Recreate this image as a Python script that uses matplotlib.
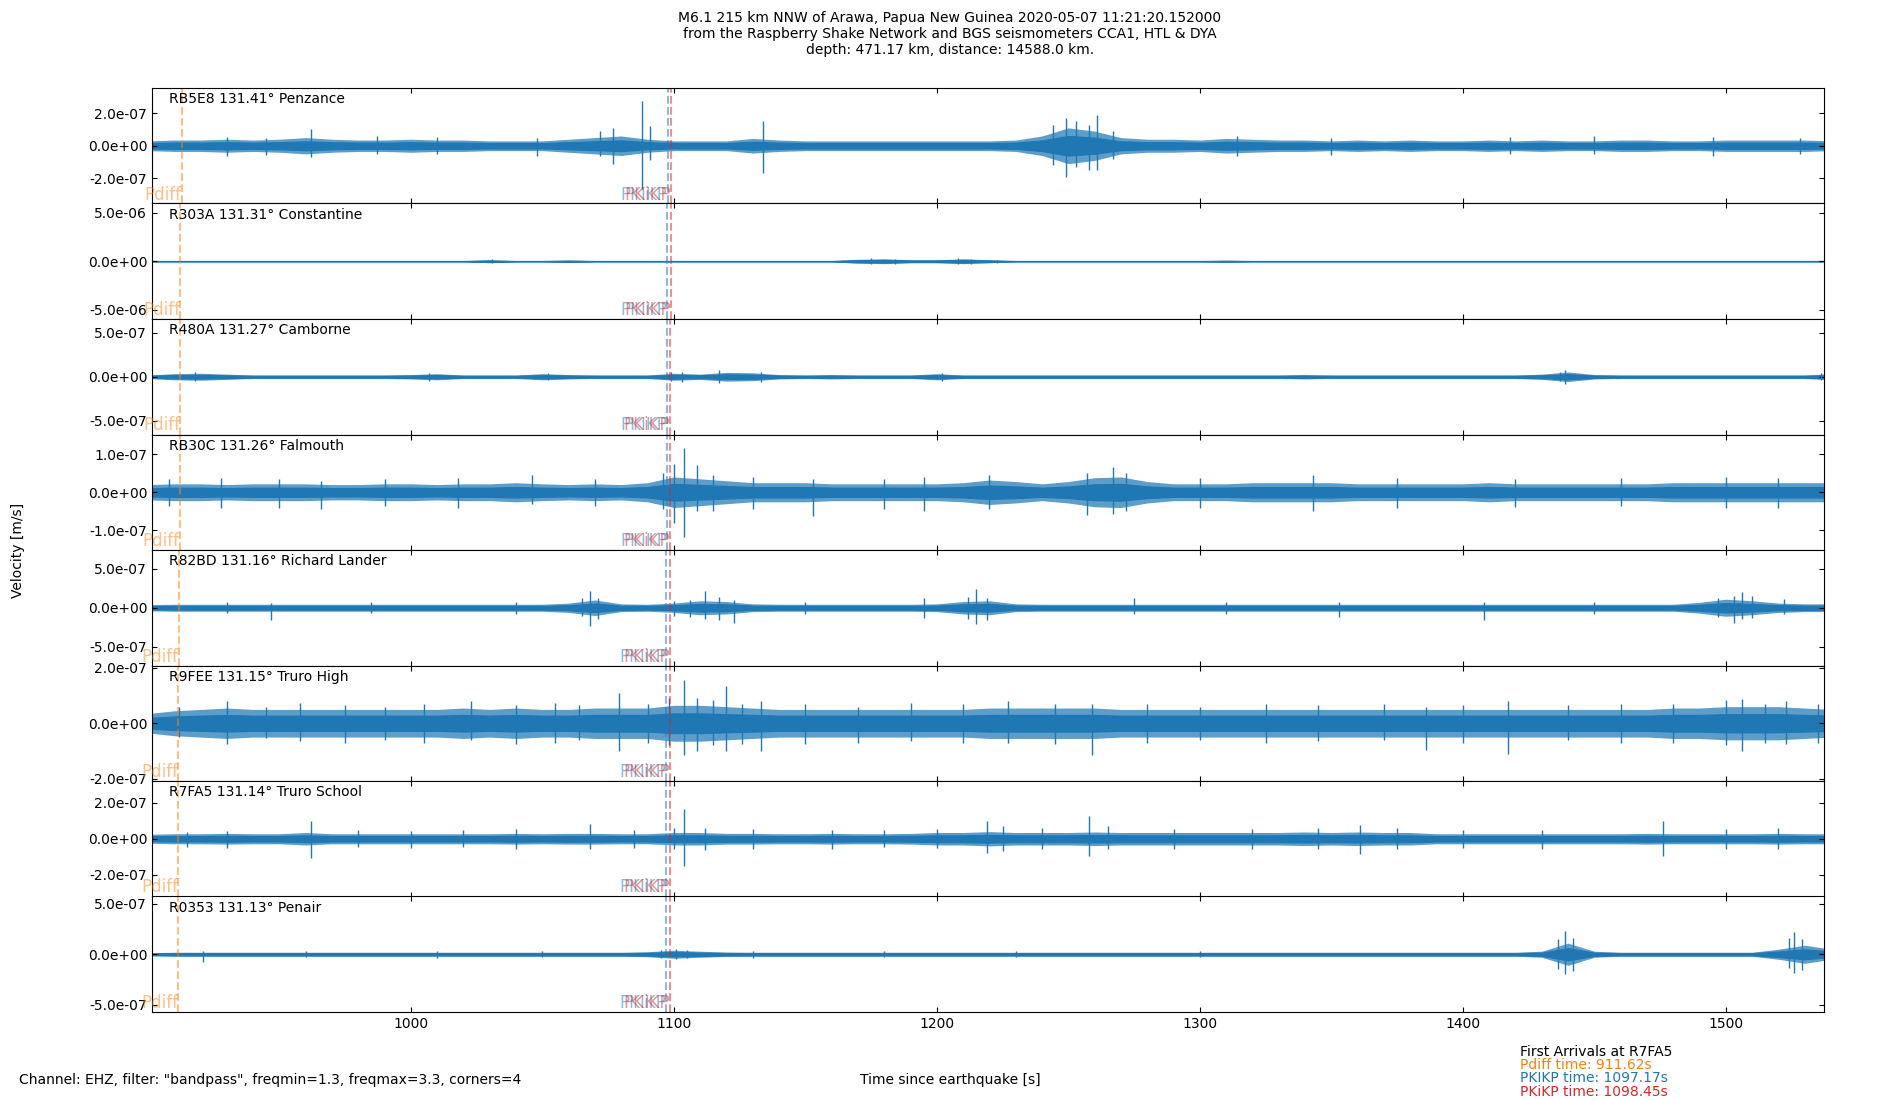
import matplotlib
matplotlib.use('Agg')
import matplotlib.pyplot as plt
import numpy as np
from matplotlib.ticker import FormatStrFormatter

# ---------------- data ----------------
stations = ["RB5E8", "R303A", "R480A", "RB30C", "R82BD", "R9FEE", "R7FA5", "R0353"]
distances = [131.41, 131.31, 131.27, 131.26, 131.16, 131.15, 131.14, 131.13]
places = ["Penzance", "Constantine", "Camborne", "Falmouth", "Richard Lander",
          "Truro High", "Truro School", "Penair"]
pdiff_times = [912.86, 912.40, 912.22, 912.17, 911.71, 911.67, 911.62, 911.57]
pkikp_times = [1097.68, 1097.49, 1097.41, 1097.40, 1097.21, 1097.19, 1097.17, 1097.15]
pkikp2_times = [1098.99, 1098.79, 1098.71, 1098.69, 1098.49, 1098.47, 1098.45, 1098.43]
y_limits = [3.55e-7, 5.93e-6, 6.6e-7, 1.51e-7, 7.44e-7, 2.09e-7, 3.23e-7, 5.74e-7]
y_tick_steps = [2e-7, 5e-6, 5e-7, 1e-7, 5e-7, 2e-7, 2e-7, 5e-7]
time_start, time_end = 901.6, 1537.3
x_ticks = [1000, 1100, 1200, 1300, 1400, 1500]

# outer envelope of the noise band, knots every 10 s from 900 s to 1540 s (1e-7 m/s)
env_t = np.arange(900, 1541, 10)
env_RB5E8 = [0.3, 0.35, 0.35, 0.4, 0.35, 0.4, 0.5, 0.4, 0.35, 0.35,
             0.4, 0.35, 0.35, 0.3, 0.3, 0.3, 0.4, 0.5, 0.6, 0.4,
             0.3, 0.3, 0.3, 0.45, 0.35, 0.3, 0.3, 0.3, 0.3, 0.3,
             0.3, 0.3, 0.3, 0.35, 0.6, 1.1, 0.9, 0.5, 0.4, 0.4,
             0.35, 0.45, 0.4, 0.35, 0.35, 0.3, 0.35, 0.3, 0.35, 0.3,
             0.3, 0.35, 0.3, 0.35, 0.3, 0.3, 0.35, 0.35, 0.3, 0.3,
             0.35, 0.35, 0.35, 0.35, 0.3]
env_R303A = [0.6, 0.6, 0.6, 0.6, 0.6, 0.6, 0.6, 0.6, 0.6, 0.6,
             0.6, 0.6, 0.6, 1.5, 0.6, 0.6, 1.2, 0.6, 0.6, 0.6,
             0.6, 0.6, 0.6, 0.6, 0.6, 0.6, 0.6, 2.0, 2.5, 1.5,
             1.5, 2.5, 1.5, 0.6, 0.6, 0.6, 0.6, 0.6, 0.6, 0.6,
             0.6, 1.0, 0.6, 0.6, 0.6, 0.6, 0.6, 0.6, 0.6, 0.6,
             0.6, 0.6, 0.6, 0.6, 0.6, 0.6, 0.6, 0.6, 0.6, 0.6,
             0.6, 0.6, 0.6, 0.6, 0.6]
env_R480A = [0.2, 0.35, 0.4, 0.3, 0.2, 0.2, 0.2, 0.2, 0.2, 0.2,
             0.25, 0.35, 0.2, 0.2, 0.2, 0.35, 0.25, 0.2, 0.2, 0.2,
             0.4, 0.3, 0.5, 0.45, 0.25, 0.2, 0.25, 0.2, 0.2, 0.2,
             0.35, 0.2, 0.2, 0.2, 0.2, 0.2, 0.2, 0.2, 0.2, 0.2,
             0.2, 0.2, 0.2, 0.2, 0.25, 0.2, 0.2, 0.2, 0.2, 0.2,
             0.2, 0.2, 0.2, 0.3, 0.55, 0.25, 0.2, 0.2, 0.2, 0.2,
             0.2, 0.2, 0.2, 0.2, 0.35]
env_RB30C = [0.2, 0.22, 0.22, 0.2, 0.22, 0.22, 0.22, 0.2, 0.2, 0.22,
             0.22, 0.2, 0.22, 0.22, 0.25, 0.22, 0.2, 0.22, 0.2, 0.25,
             0.4, 0.35, 0.3, 0.25, 0.25, 0.25, 0.22, 0.22, 0.22, 0.22,
             0.22, 0.25, 0.32, 0.28, 0.22, 0.28, 0.38, 0.4, 0.28, 0.22,
             0.22, 0.22, 0.25, 0.25, 0.25, 0.25, 0.22, 0.22, 0.22, 0.22,
             0.22, 0.25, 0.22, 0.22, 0.22, 0.22, 0.22, 0.22, 0.25, 0.25,
             0.25, 0.25, 0.25, 0.25, 0.25]
env_R82BD = [0.4, 0.45, 0.45, 0.45, 0.45, 0.45, 0.45, 0.45, 0.45, 0.45,
             0.45, 0.45, 0.45, 0.45, 0.45, 0.45, 0.6, 1.0, 0.5, 0.45,
             0.6, 0.9, 0.8, 0.5, 0.45, 0.45, 0.45, 0.45, 0.45, 0.45,
             0.5, 0.8, 0.9, 0.5, 0.45, 0.45, 0.45, 0.45, 0.45, 0.45,
             0.45, 0.45, 0.45, 0.45, 0.45, 0.45, 0.45, 0.45, 0.45, 0.45,
             0.45, 0.45, 0.45, 0.45, 0.45, 0.45, 0.45, 0.45, 0.45, 0.7,
             1.1, 0.9, 0.6, 0.5, 0.5]
env_R9FEE = [0.35, 0.45, 0.5, 0.55, 0.5, 0.5, 0.5, 0.5, 0.5, 0.5,
             0.5, 0.5, 0.55, 0.5, 0.55, 0.5, 0.5, 0.55, 0.55, 0.55,
             0.65, 0.65, 0.6, 0.55, 0.5, 0.5, 0.5, 0.5, 0.5, 0.5,
             0.5, 0.5, 0.55, 0.55, 0.55, 0.55, 0.55, 0.5, 0.5, 0.5,
             0.5, 0.5, 0.5, 0.5, 0.5, 0.5, 0.5, 0.5, 0.5, 0.5,
             0.5, 0.5, 0.5, 0.5, 0.5, 0.5, 0.5, 0.5, 0.55, 0.55,
             0.6, 0.6, 0.6, 0.55, 0.5]
env_R7FA5 = [0.25, 0.28, 0.28, 0.3, 0.28, 0.28, 0.35, 0.28, 0.28, 0.28,
             0.28, 0.28, 0.28, 0.28, 0.3, 0.28, 0.3, 0.3, 0.28, 0.28,
             0.35, 0.35, 0.3, 0.3, 0.28, 0.28, 0.3, 0.28, 0.28, 0.3,
             0.35, 0.35, 0.4, 0.35, 0.35, 0.35, 0.38, 0.35, 0.35, 0.35,
             0.35, 0.35, 0.35, 0.35, 0.38, 0.35, 0.38, 0.35, 0.35, 0.28,
             0.28, 0.28, 0.28, 0.28, 0.28, 0.28, 0.28, 0.3, 0.28, 0.28,
             0.28, 0.28, 0.3, 0.28, 0.28]
env_R0353 = [0.15, 0.2, 0.2, 0.2, 0.2, 0.2, 0.2, 0.2, 0.2, 0.2,
             0.2, 0.2, 0.2, 0.2, 0.2, 0.2, 0.2, 0.2, 0.2, 0.25,
             0.4, 0.3, 0.22, 0.2, 0.2, 0.2, 0.2, 0.2, 0.2, 0.2,
             0.2, 0.2, 0.2, 0.2, 0.2, 0.2, 0.2, 0.2, 0.2, 0.2,
             0.2, 0.2, 0.2, 0.2, 0.2, 0.2, 0.2, 0.2, 0.2, 0.2,
             0.2, 0.2, 0.2, 0.3, 1.1, 0.3, 0.2, 0.2, 0.2, 0.2,
             0.2, 0.2, 0.5, 0.9, 0.5]

# prominent excursions: (time s, max, min) in 1e-7 m/s
spk_RB5E8 = [(930, 0.55, -0.6), (945, 0.5, -0.55), (962, 1.0, -0.7), (987, 0.6, -0.5),
             (1010, 0.55, -0.5), (1048, 0.5, -0.6), (1072, 0.9, -0.6), (1077, 1.07, -1.1),
             (1088, 2.75, -2.65), (1091, 1.2, -0.9), (1134, 1.5, -1.65), (1244, 1.3, -1.2),
             (1249, 1.7, -1.9), (1253, 1.5, -1.3), (1258, 1.3, -1.5), (1261, 1.9, -1.5),
             (1267, 0.9, -0.8), (1314, 0.6, -0.6), (1350, 0.5, -0.55), (1418, 0.55, -0.5),
             (1450, 0.6, -0.5), (1495, 0.55, -0.6), (1528, 0.5, -0.5)]
spk_R303A = [(1031, 2.0, -2.0), (1175, 3.0, -3.0), (1184, 2.5, -2.5), (1208, 3.0, -3.0),
             (1213, 2.5, -3.0), (1223, 1.5, -1.5)]
spk_R480A = [(918, 0.5, -0.5), (1007, 0.45, -0.45), (1052, 0.45, -0.4), (1099, 0.55, -0.5),
             (1103, 0.5, -0.55), (1117, 0.8, -0.75), (1133, 0.6, -0.6), (1202, 0.45, -0.5),
             (1437, 0.6, -0.5), (1439, 0.8, -0.8), (1536, 0.45, -0.4)]
spk_RB30C = [(908, 0.35, -0.35), (928, 0.38, -0.4), (950, 0.35, -0.4), (966, 0.3, -0.45),
             (990, 0.35, -0.35), (1018, 0.38, -0.4), (1046, 0.46, -0.3), (1070, 0.35, -0.35),
             (1096, 0.5, -0.45), (1100, 0.75, -0.8), (1104, 1.16, -1.16), (1109, 0.72, -0.5),
             (1115, 0.45, -0.5), (1130, 0.4, -0.45), (1153, 0.35, -0.63), (1180, 0.35, -0.45),
             (1195, 0.4, -0.5), (1220, 0.45, -0.45), (1257, 0.5, -0.6), (1267, 0.67, -0.57),
             (1272, 0.5, -0.5), (1300, 0.38, -0.4), (1343, 0.45, -0.5), (1375, 0.38, -0.4),
             (1420, 0.35, -0.38), (1460, 0.38, -0.35), (1500, 0.4, -0.42), (1520, 0.38, -0.4)]
spk_R82BD = [(930, 0.8, -0.7), (947, 0.6, -1.6), (985, 0.7, -0.7), (1040, 0.7, -0.8),
             (1065, 1.2, -1.0), (1068, 2.15, -2.3), (1071, 1.3, -1.5), (1100, 0.9, -1.0),
             (1106, 1.0, -1.2), (1112, 2.2, -1.4), (1117, 1.4, -1.6), (1123, 1.0, -2.0),
             (1150, 0.8, -0.8), (1195, 1.2, -1.3), (1212, 1.4, -1.5), (1215, 2.36, -2.15),
             (1219, 1.3, -1.6), (1275, 1.2, -0.8), (1310, 0.8, -0.8), (1353, 0.8, -1.15),
             (1408, 0.8, -1.6), (1450, 0.8, -0.8), (1497, 1.3, -1.2), (1503, 1.5, -2.0),
             (1506, 2.06, -1.5), (1510, 1.5, -1.3), (1522, 1.1, -0.8)]
spk_R9FEE = [(912, 0.6, -0.5), (930, 0.79, -0.75), (945, 0.6, -0.55), (958, 0.75, -0.65),
             (975, 0.65, -0.7), (990, 0.6, -0.6), (1005, 0.7, -0.7), (1023, 0.82, -0.6),
             (1040, 0.65, -0.75), (1055, 0.75, -0.7), (1064, 0.65, -0.6), (1079, 1.1, -1.0),
             (1090, 0.7, -0.7), (1098, 0.9, -0.8), (1104, 1.57, -1.15), (1109, 0.9, -1.0),
             (1115, 0.85, -0.8), (1120, 1.35, -1.0), (1126, 0.7, -0.75), (1133, 0.8, -1.0),
             (1150, 0.7, -0.75), (1170, 0.6, -0.7), (1190, 0.75, -0.65), (1210, 0.7, -0.7),
             (1227, 0.8, -0.7), (1245, 0.7, -0.75), (1259, 0.7, -1.15), (1280, 0.7, -0.7),
             (1300, 0.6, -0.6), (1325, 0.7, -0.7), (1345, 0.65, -0.65), (1370, 0.7, -0.6),
             (1386, 0.6, -0.95), (1400, 0.65, -0.7), (1417, 0.8, -1.1), (1440, 0.65, -0.6),
             (1460, 0.7, -0.7), (1480, 0.7, -0.7), (1500, 0.85, -0.8), (1506, 0.88, -1.0),
             (1515, 0.7, -0.7), (1523, 0.8, -0.75), (1535, 0.7, -0.7)]
spk_R7FA5 = [(915, 0.4, -0.45), (930, 0.45, -0.5), (962, 0.99, -1.1), (980, 0.5, -0.45),
             (1000, 0.45, -0.5), (1020, 0.5, -0.45), (1040, 0.55, -0.6), (1068, 0.8, -0.55),
             (1085, 0.5, -0.5), (1100, 0.6, -0.55), (1104, 1.64, -1.55), (1112, 0.6, -0.65),
             (1130, 0.55, -0.6), (1160, 0.5, -0.55), (1180, 0.5, -0.45), (1200, 0.55, -0.5),
             (1219, 1.0, -0.8), (1225, 0.7, -0.7), (1240, 0.6, -0.6), (1258, 1.25, -0.97),
             (1265, 0.7, -0.6), (1290, 0.55, -0.6), (1320, 0.55, -0.55), (1345, 0.6, -0.6),
             (1361, 0.78, -0.87), (1375, 0.6, -0.6), (1400, 0.5, -0.5), (1430, 0.5, -0.55),
             (1476, 0.97, -0.97), (1500, 0.55, -0.6), (1520, 0.6, -0.55)]
spk_R0353 = [(921, 0.3, -0.73), (960, 0.35, -0.3), (1010, 0.3, -0.4), (1050, 0.35, -0.3),
             (1095, 0.4, -0.35), (1101, 0.55, -0.5), (1105, 0.45, -0.4), (1130, 0.35, -0.4),
             (1180, 0.3, -0.3), (1230, 0.35, -0.3), (1300, 0.3, -0.3), (1436, 1.5, -1.5),
             (1439, 2.3, -2.0), (1442, 1.6, -1.7), (1524, 1.6, -1.4), (1526, 2.2, -1.85),
             (1529, 1.5, -1.6)]

envelopes = [env_RB5E8, env_R303A, env_R480A, env_RB30C, env_R82BD, env_R9FEE, env_R7FA5, env_R0353]
spikes = [spk_RB5E8, spk_R303A, spk_R480A, spk_RB30C, spk_R82BD, spk_R9FEE, spk_R7FA5, spk_R0353]
unit = 1e-7

title = ("M6.1 215 km NNW of Arawa, Papua New Guinea 2020-05-07 11:21:20.152000\n"
         "from the Raspberry Shake Network and BGS seismometers CCA1, HTL & DYA\n"
         "depth: 471.17 km, distance: 14588.0 km.")

# rendering style: the dense core of the noise band is drawn solid, the fringe translucent
CORE_FRACTION = 0.55
FRINGE_ALPHA = 0.72

# ---------------- plot ----------------
fig, axes = plt.subplots(8, 1, sharex=True, figsize=(19, 11), dpi=100)
fig.subplots_adjust(left=0.08, right=0.96, top=0.92, bottom=0.08, hspace=0)

for i, ax in enumerate(axes):
    env = np.array(envelopes[i]) * unit
    ax.fill_between(env_t, -env, env, color='C0', alpha=FRINGE_ALPHA, linewidth=0)
    ax.fill_between(env_t, -env * CORE_FRACTION, env * CORE_FRACTION, color='C0', linewidth=0.8)
    st = [s[0] for s in spikes[i]]
    hi = [s[1] * unit for s in spikes[i]]
    lo = [s[2] * unit for s in spikes[i]]
    ax.vlines(st, lo, hi, color='C0', linewidth=1.0)
    ax.set_xlim(time_start, time_end)
    yl = y_limits[i]
    ax.set_ylim(-yl, yl)
    step = y_tick_steps[i]
    ax.set_yticks([-step, 0, step])
    ax.yaxis.set_major_formatter(FormatStrFormatter('%.1e'))
    ax.set_xticks(x_ticks)
    ax.tick_params(direction='in', top=True, right=True, labelsize=10)
    # arrival lines
    ax.axvline(pdiff_times[i], color='C1', linestyle='--', alpha=0.5, linewidth=1.5)
    ax.axvline(pkikp_times[i], color='C0', linestyle='--', alpha=0.5, linewidth=1.5)
    ax.axvline(pkikp2_times[i], color='C3', linestyle='--', alpha=0.5, linewidth=1.5)
    ax.text(pdiff_times[i], -yl, 'Pdiff', color='C1', alpha=0.5, ha='right', va='bottom', fontsize=12)
    ax.text(pkikp_times[i], -yl, 'PKIKP', color='C0', alpha=0.5, ha='right', va='bottom', fontsize=12)
    ax.text(pkikp2_times[i], -yl, 'PKiKP', color='C3', alpha=0.5, ha='right', va='bottom', fontsize=12)
    ax.text(0.01, 0.965, f"{stations[i]} {distances[i]:.2f}\u00b0 {places[i]}",
            transform=ax.transAxes, ha='left', va='top', fontsize=10)

fig.suptitle(title, fontsize=10, y=0.99)
fig.text(0.0095, 0.5, 'Velocity [m/s]', rotation=90, ha='center', va='center', fontsize=10)
fig.text(0.5, 0.018, 'Time since earthquake [s]', ha='center', va='center', fontsize=10)
fig.text(0.01, 0.018, 'Channel: EHZ, filter: "bandpass", freqmin=1.3, freqmax=3.3, corners=4',
         ha='left', va='center', fontsize=10)
fig.text(0.8, 0.05, 'First Arrivals at R7FA5', ha='left', va='top', fontsize=10, color='black')
fig.text(0.8, 0.038, 'Pdiff time: 911.62s', ha='left', va='top', fontsize=10, color='C1')
fig.text(0.8, 0.026, 'PKIKP time: 1097.17s', ha='left', va='top', fontsize=10, color='C0')
fig.text(0.8, 0.014, 'PKiKP time: 1098.45s', ha='left', va='top', fontsize=10, color='C3')

fig.savefig('out.png', dpi=100)
